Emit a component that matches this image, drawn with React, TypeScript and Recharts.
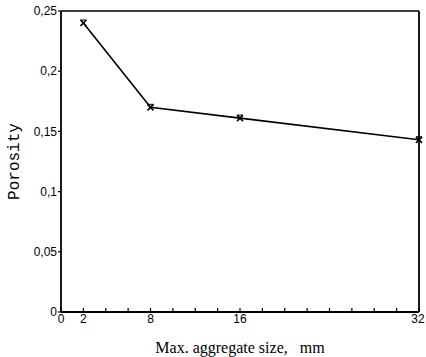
import { LineChart, Line, XAxis, YAxis, ReferenceLine } from 'recharts'

const aggregateSize = [2, 8, 16, 32]
const porosity = [0.24, 0.17, 0.161, 0.143]
const xTicks = [0, 2, 4, 6, 8, 10, 12, 14, 16, 18, 20, 22, 24, 26, 28, 30, 32]
const xLabels = [0, 2, 8, 16, 32]
const yTicks = [0, 0.05, 0.1, 0.15, 0.2, 0.25]

const data = aggregateSize.map((size, i) => ({ size, porosity: porosity[i] }))

const tickFont = '"Liberation Sans", Arial, sans-serif'

function XTick(props: any) {
  const { x, y, payload } = props
  const v = payload.value
  return (
    <g>
      <line x1={x} x2={x} y1={y} y2={y - 4} stroke="#000" strokeWidth={1.2} />
      {xLabels.includes(v) && (
        <text x={v === 32 ? x - 1 : x} y={y + 11} textAnchor="middle" fontSize={12} fontFamily={tickFont} fill="#000">
          {v}
        </text>
      )}
    </g>
  )
}

function Marker(props: any) {
  const { cx, cy } = props
  if (cx == null || cy == null) return null
  return (
    <g stroke="#000" strokeWidth={1.6}>
      <line x1={cx - 3} y1={cy - 3} x2={cx + 3} y2={cy + 3} />
      <line x1={cx + 3} y1={cy - 3} x2={cx - 3} y2={cy + 3} />
      <line x1={cx - 3} y1={cy - 3} x2={cx + 3} y2={cy - 3} strokeWidth={1} />
    </g>
  )
}

function YLabel(props: any) {
  const { viewBox } = props
  const cy = viewBox.y + viewBox.height / 2
  const cx = 15
  return (
    <text
      x={cx}
      y={cy}
      transform={`rotate(-90 ${cx} ${cy})`}
      textAnchor="middle"
      dominantBaseline="central"
      fontSize={16}
      fontFamily='"Liberation Mono", "DejaVu Sans Mono", monospace'
      fill="#000"
    >
      Porosity
    </text>
  )
}

export default function App() {
  return (
    <div style={{ position: 'absolute', left: 0, top: 0, width: 426, height: 357, background: '#fff' }}>
      <LineChart width={426} height={357} data={data} margin={{ top: 11, right: 7, bottom: 0, left: 0 }}>
        <XAxis
          dataKey="size"
          type="number"
          domain={[0, 32]}
          ticks={xTicks}
          interval={0}
          tick={<XTick />}
          tickLine={false}
          tickSize={0}
          tickMargin={0}
          height={45}
          axisLine={{ stroke: '#000', strokeWidth: 1.8 }}
          label={{
            value: 'Max. aggregate size,\u00a0\u00a0 mm',
            position: 'insideBottom',
            offset: 4,
            fill: '#000',
            fontSize: 16,
            fontFamily: '"Liberation Serif", "DejaVu Serif", serif',
          }}
        />
        <YAxis
          type="number"
          domain={[0, 0.25]}
          ticks={yTicks}
          interval={0}
          width={61}
          tickSize={3}
          tickMargin={1}
          tickFormatter={(v: number) => String(v).replace('.', ',')}
          tick={{ fill: '#000', fontSize: 12, fontFamily: tickFont }}
          tickLine={{ stroke: '#000', strokeWidth: 1.2 }}
          axisLine={{ stroke: '#000', strokeWidth: 1.8 }}
          label={<YLabel />}
        />
        <ReferenceLine y={0.25} stroke="#000" strokeWidth={1.6} />
        <ReferenceLine x={32} stroke="#000" strokeWidth={1.8} />
        <Line
          dataKey="porosity"
          stroke="#000"
          strokeWidth={1.6}
          dot={<Marker />}
          activeDot={false}
          isAnimationActive={false}
        />
      </LineChart>
    </div>
  )
}
